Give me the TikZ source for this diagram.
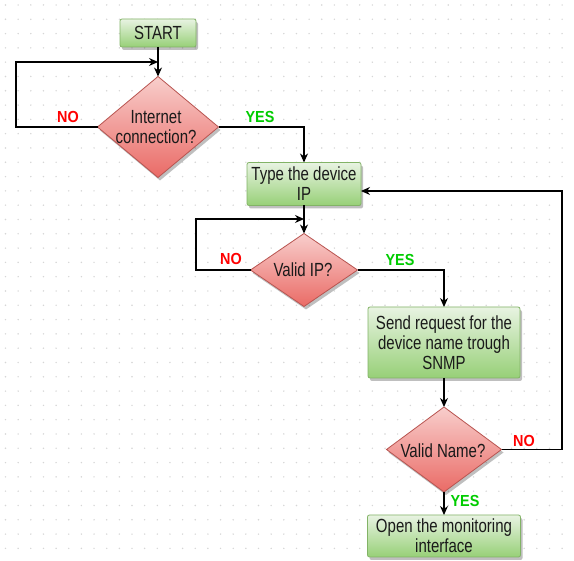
\documentclass[tikz,border=0pt]{standalone}
\usepackage{fontspec}
\setmainfont{Liberation Sans}
\usetikzlibrary{shapes.geometric,arrows.meta,shadows}
\definecolor{gtop}{HTML}{E8F3E2}
\definecolor{gbot}{HTML}{97D077}
\definecolor{gstroke}{HTML}{82B366}
\definecolor{rtop}{HTML}{F8CECC}
\definecolor{rbot}{HTML}{EA6B66}
\definecolor{rstroke}{HTML}{B85450}
\definecolor{noc}{HTML}{FF0000}
\definecolor{yesc}{HTML}{00CC00}
\definecolor{dotc}{HTML}{D6D6D6}
\definecolor{txtc}{HTML}{1A1A1A}
\begin{document}
\begin{tikzpicture}[x=1pt,y=-1pt,
  shad/.style={drop shadow={shadow xshift=2pt,shadow yshift=-3pt,opacity=0.25,fill=black}},
  box/.style={rectangle, rounded corners=2pt, draw=gstroke, line width=0.8pt,
    top color=gtop, bottom color=gbot, inner sep=0pt, outer sep=0pt, shad},
  dia/.style={diamond, draw=rstroke, line width=0.8pt, top color=rtop, bottom color=rbot,
    inner sep=0pt, outer sep=0pt, shad},
  txt/.style={align=center, font=\fontsize{19}{20}\selectfont, text=txtc, inner sep=0pt,
    xscale=0.79, transform shape},
  nolbl/.style={font=\fontsize{16}{18}\selectfont\bfseries, text=noc, inner sep=0pt,
    xscale=0.9, transform shape},
  yeslbl/.style={font=\fontsize{16}{18}\selectfont\bfseries, text=yesc, inner sep=0pt,
    xscale=0.9, transform shape},
  arr/.style={line width=1.3pt, -{Stealth[length=9pt,width=8pt]}}]
\useasboundingbox (0,0) rectangle (574,561);
\fill[white] (0,0) rectangle (574,561);
\foreach \i in {0,...,44} {
  \foreach \j in {0,...,38} {
    \fill[dotc] ({5.5+12.65*\i},{5+14.3*\j}) circle (0.8pt);
  }
}
% nodes
\node[box, minimum width=76pt, minimum height=28pt] (start) at (158,33) {};
\node[txt] (startt) at (start) {START};
\node[dia, minimum width=121pt, minimum height=101pt] (d1) at (158,127) {};
\node[txt] (d1t) at (156,127) {Internet\\connection?};
\node[box, minimum width=114pt, minimum height=43pt] (type) at (304,184) {};
\node[txt] (typet) at (type) {Type the device\\IP};
\node[dia, minimum width=107pt, minimum height=73pt] (d2) at (304,270) {};
\node[txt] (d2t) at (303,270) {Valid IP?};
\node[box, minimum width=152pt, minimum height=71pt] (send) at (444,342.5) {};
\node[txt] (sendt) at (send) {Send request for the\\device name trough\\SNMP};
\node[dia, minimum width=115pt, minimum height=85pt] (d3) at (444,449.5) {};
\node[txt] (d3t) at (443,451) {Valid Name?};
\node[box, minimum width=153pt, minimum height=42pt] (open) at (444,536) {};
\node[txt] (opent) at (open) {Open the monitoring\\interface};
% labels
\node[nolbl] (no1) at (68,117) {NO};
\node[yeslbl] (yes1) at (260,117) {YES};
\node[nolbl] (no2) at (231,259) {NO};
\node[yeslbl] (yes2) at (400,260) {YES};
\node[nolbl] (no3) at (524,441) {NO};
\node[yeslbl] (yes3) at (465,501) {YES};
% coordinates
\coordinate (l1) at (16,62);
\coordinate (j1) at (158,62);
\coordinate (l2) at (196,219);
\coordinate (j2) at (304,219);
\coordinate (fb) at (562,191);
% connectors
\draw[arr] (start) -- (d1.north);
\draw[arr] (d1.west) -| (l1) -- (j1);
\draw[arr] (d1.east) -| (type.north);
\draw[arr] (type.south) -- (d2.north);
\draw[arr] (d2.west) -| (l2) -- (j2);
\draw[arr] (d2.east) -| (send.north);
\draw[arr] (send.south) -- (d3.north);
\draw[arr] (d3.east) -| (fb) -- (type.east |- fb);
\draw[arr] (d3.south) -- (open.north);
\end{tikzpicture}
\end{document}
